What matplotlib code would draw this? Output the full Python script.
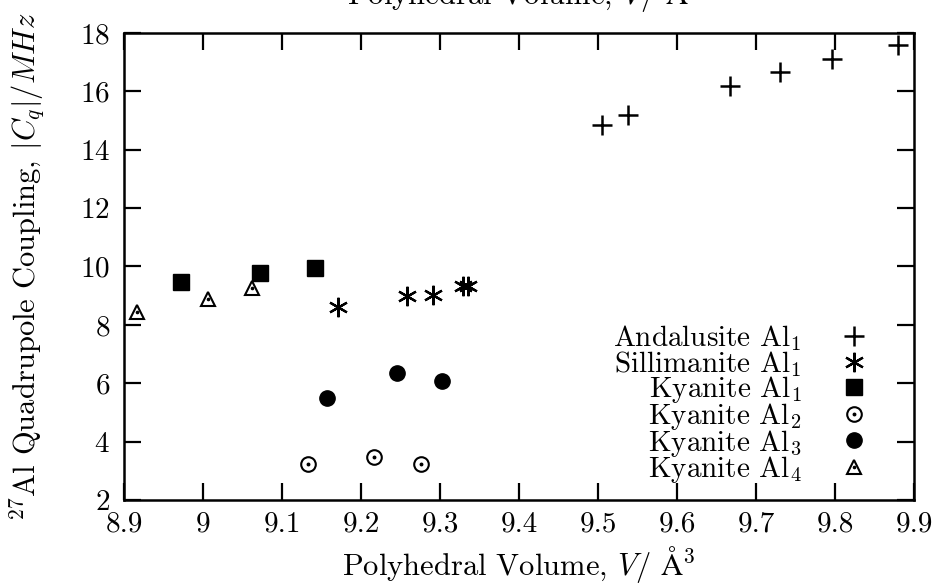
import matplotlib
matplotlib.use("Agg")
import matplotlib.pyplot as plt

plt.rcParams.update({
    "font.family": ["cmr10", "DejaVu Serif"],
    "mathtext.fontset": "cm",
    "axes.formatter.use_mathtext": True,
    "font.size": 22,
})

# Polyhedral volume (Å^3) and |Cq| (MHz) per site
andalusite_v = [9.505, 9.538, 9.667, 9.730, 9.796, 9.880]
andalusite_cq = [14.85, 15.2, 16.2, 16.68, 17.1, 17.58]

sillimanite_v = [9.171, 9.258, 9.291, 9.329, 9.335]
sillimanite_cq = [8.62, 8.99, 9.04, 9.32, 9.32]

kyanite1_v = [8.972, 9.072, 9.142]
kyanite1_cq = [9.46, 9.78, 9.94]

kyanite2_v = [9.133, 9.216, 9.276]
kyanite2_cq = [3.24, 3.48, 3.24]

kyanite3_v = [9.157, 9.245, 9.302]
kyanite3_cq = [5.5, 6.36, 6.06]

kyanite4_v = [8.916, 9.006, 9.062]
kyanite4_cq = [8.44, 8.89, 9.27]

x_ticks = [8.9, 9.0, 9.1, 9.2, 9.3, 9.4, 9.5, 9.6, 9.7, 9.8, 9.9]
x_tick_labels = ["8.9", "9", "9.1", "9.2", "9.3", "9.4", "9.5", "9.6", "9.7", "9.8", "9.9"]
y_ticks = [2, 4, 6, 8, 10, 12, 14, 16, 18]

labels = [r"Andalusite Al$_1$", r"Sillimanite Al$_1$", r"Kyanite Al$_1$",
          r"Kyanite Al$_2$", r"Kyanite Al$_3$", r"Kyanite Al$_4$"]

x_label = r"Polyhedral Volume, $V$/ $\mathrm{Å}^3$"
y_label = r"$^{27}$Al Quadrupole Coupling, $|C_q|/MHz$"

fig = plt.figure(figsize=(9.38, 5.88), dpi=100)
ax = fig.add_axes([124 / 938, 1 - 500 / 588, 790 / 938, 467 / 588])

asterisk = (6, 2, 0)

h_and, = ax.plot(andalusite_v, andalusite_cq, ls="none", marker="+", ms=14,
                 mew=1.8, color="black")
h_sil, = ax.plot(sillimanite_v, sillimanite_cq, ls="none", marker=asterisk,
                 ms=14, mew=1.6, color="black")
h_k1, = ax.plot(kyanite1_v, kyanite1_cq, ls="none", marker="s", ms=11.5,
                color="black")
h_k2a, = ax.plot(kyanite2_v, kyanite2_cq, ls="none", marker="o", ms=10.5,
                 mfc="white", mec="black", mew=1.5)
h_k2b, = ax.plot(kyanite2_v, kyanite2_cq, ls="none", marker="o", ms=1.8,
                 color="black")
h_k3, = ax.plot(kyanite3_v, kyanite3_cq, ls="none", marker="o", ms=11,
                color="black")
h_k4a, = ax.plot(kyanite4_v, kyanite4_cq, ls="none", marker="^", ms=10.5,
                 mfc="white", mec="black", mew=1.5)
h_k4b, = ax.plot(kyanite4_v, kyanite4_cq, ls="none", marker="o", ms=1.6,
                 color="black")

ax.set_xlim(8.9, 9.9)
ax.set_ylim(2, 18)
ax.set_xticks(x_ticks)
ax.set_xticklabels(x_tick_labels)
ax.set_yticks(y_ticks)
ax.tick_params(direction="in", length=12, width=1.6, top=True, right=True,
               labelsize=21)
ax.tick_params(axis="x", pad=8)
ax.tick_params(axis="y", pad=10)
for s in ax.spines.values():
    s.set_linewidth(1.8)

leg = ax.legend([h_and, h_sil, h_k1, (h_k2a, h_k2b), h_k3, (h_k4a, h_k4b)],
                labels, loc="lower right", bbox_to_anchor=(0.972, -0.012),
                frameon=False, markerfirst=False, handlelength=1.2,
                handletextpad=1.2, labelspacing=-0.15, fontsize=21,
                borderpad=0.2)

fig.text(342 / 938, 1 - 575 / 588, x_label, ha="left", va="baseline",
         fontsize=22)
fig.text(347 / 938, 1 - 4 / 588, x_label, ha="left", va="baseline",
         fontsize=22)
fig.text(27 / 938, 1 - 267 / 588, y_label, rotation=90, ha="center",
         va="center", fontsize=22)

fig.savefig("out.png", dpi=100)
